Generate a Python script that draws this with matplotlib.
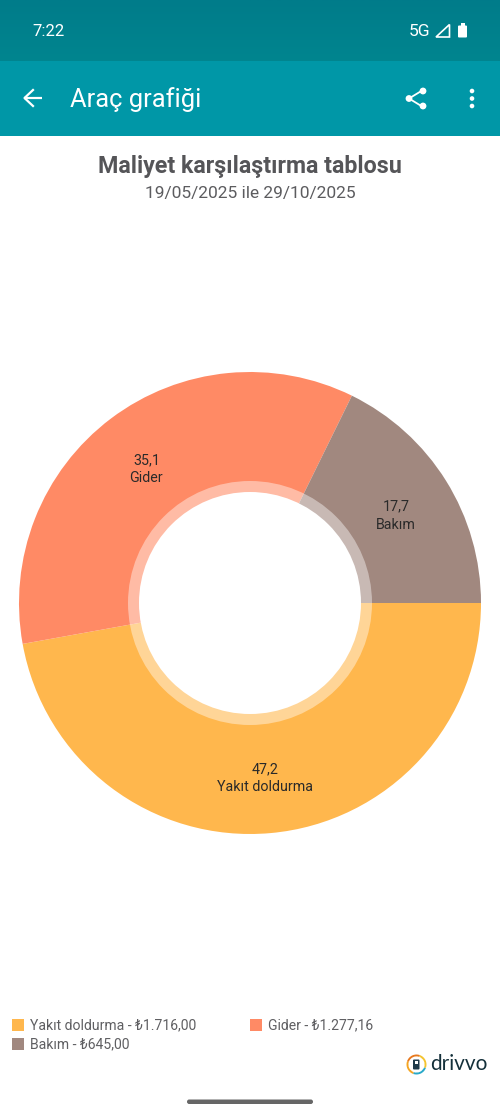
import numpy as np
import matplotlib
matplotlib.use('Agg')
import matplotlib.pyplot as plt
from matplotlib.patches import Rectangle, Circle, Wedge, Polygon, FancyBboxPatch

plt.rcParams['font.family'] = ['Roboto', 'DejaVu Sans']

# data
categories = ['Yakıt doldurma', 'Gider', 'Bakım']
costs = [1716.00, 1277.16, 645.00]
percent_labels = ['47,2', '35,1', '17,7']
legend_labels = ['Yakıt doldurma - ₺1.716,00', 'Gider - ₺1.277,16', 'Bakım - ₺645,00']
colors = ['#FFB74D', '#FF8A65', '#A1887F']

title = 'Maliyet karşılaştırma tablosu'
subtitle = '19/05/2025 ile 29/10/2025'
screen_title = 'Araç grafiği'

W, H = 500, 1116
fig = plt.figure(figsize=(W / 100, H / 100), dpi=100, facecolor='white')

# background axes in screen pixels
bg = fig.add_axes([0, 0, 1, 1])
bg.set_xlim(0, W)
bg.set_ylim(H, 0)
bg.axis('off')


def px(size):
    return size * 0.72


# status bar and app bar
gradient = np.linspace(0, 1, 60).reshape(-1, 1)
bar_cmap = matplotlib.colors.LinearSegmentedColormap.from_list('bar', ['#007C8A', '#00858F'])
bg.imshow(gradient, extent=(0, W, 61, 0), cmap=bar_cmap, aspect='auto', zorder=1)
bg.set_xlim(0, W)
bg.set_ylim(H, 0)
bg.add_patch(Rectangle((0, 61), W, 75, color='#0097A7', lw=0, zorder=1))

bg.text(32.5, 31, '7:22', color='white', fontsize=px(16.6), ha='left', va='center', zorder=3)
bg.text(409, 31, '5G', color='white', fontsize=px(17.5), ha='left', va='center', zorder=3)
bg.add_patch(Polygon([[436, 37], [449.5, 24.5], [449.5, 37]], closed=True, fill=False,
                     ec='white', lw=1.2, zorder=3))
bg.add_patch(FancyBboxPatch((458, 25.5), 9, 12, boxstyle='round,pad=0,rounding_size=1',
                            fc='white', ec='none', zorder=3))
bg.add_patch(Rectangle((460.5, 23), 4, 3, fc='white', ec='none', zorder=3))

# back arrow
bg.plot([24, 42], [98, 98], color='white', lw=1.6, zorder=3, solid_capstyle='butt')
bg.plot([33, 24.5, 33], [90, 98, 106], color='white', lw=1.6, zorder=3)
bg.text(70.5, 100, screen_title, color='white', fontsize=px(25.5), ha='left', va='center', zorder=3)

# share icon
bg.plot([423, 409, 423], [90, 98.5, 107], color='white', lw=1.3, zorder=3)
for sx, sy in [(423, 91), (409, 98.5), (423, 106)]:
    bg.add_patch(Circle((sx, sy), 3.4, fc='white', ec='none', zorder=3))

# overflow menu
for my in [91, 98.5, 106]:
    bg.add_patch(Circle((472, my), 2.3, fc='white', ec='none', zorder=3))

# headings
bg.text(250, 166, title, color='#555558', fontsize=px(23.3), fontweight='bold',
        ha='center', va='center', zorder=3)
bg.text(250, 193.5, subtitle, color='#5c5c5f', fontsize=px(17.4), ha='center', va='center', zorder=3)

# donut
cx, cy, radius = 250, 603, 231
ring_outer, hole = 122, 111
ax = fig.add_axes([(cx - radius) / W, 1 - (cy + radius) / H, 2 * radius / W, 2 * radius / H])
wedges, _ = ax.pie(costs, colors=colors, startangle=0, counterclock=False, radius=1,
                   wedgeprops={'linewidth': 0})
ax.set_xlim(-1, 1)
ax.set_ylim(-1, 1)
ax.set_aspect('equal')
ax.add_patch(Circle((0, 0), ring_outer / radius, fc='white', alpha=0.42, ec='none', zorder=5))
ax.add_patch(Circle((0, 0), hole / radius, fc='white', ec='none', zorder=6))

label_r = 0.745
label_shift = 3.5 / radius
for w, pct, name in zip(wedges, percent_labels, categories):
    mid = np.deg2rad((w.theta1 + w.theta2) / 2)
    ax.text(label_r * np.cos(mid), label_r * np.sin(mid) - label_shift, pct + '\n' + name,
            color='#2a2a2a', fontsize=px(14.2), ha='center', va='center', linespacing=1.38, zorder=7)

# legend
legend_pos = [(12, 1025), (250, 1025), (12, 1044)]
for (lx, ly), label, color in zip(legend_pos, legend_labels, colors):
    bg.add_patch(Rectangle((lx, ly - 6.5), 11.5, 12, fc=color, ec='none', zorder=3))
    bg.text(lx + 17.5, ly, label, color='#5f5f62', fontsize=px(14.0), ha='left', va='center', zorder=3)

# drivvo logo
logo_x, logo_y = 416.5, 1064.5
ring_colors = ['#29A9C9', '#F5A623', '#E8791E', '#F4C430']
for start, end, color in zip([20, 110, 200, 290], [110, 200, 290, 380], ring_colors):
    bg.add_patch(Wedge((logo_x, logo_y), 10, start, end, width=1.9, fc=color, ec='none', zorder=3))
bg.add_patch(FancyBboxPatch((logo_x - 3.5, logo_y - 5), 6.5, 10, boxstyle='round,pad=0,rounding_size=1',
                            fc='#1E3A4A', ec='none', zorder=3))
bg.add_patch(Rectangle((logo_x - 2, logo_y - 3.5), 3.5, 3, fc='white', ec='none', zorder=4))
bg.text(430.5, 1064.5, 'drivvo', color='#14303A', fontsize=px(20.8), fontfamily='Lato',
        ha='left', va='center', zorder=3)

# gesture bar
bg.add_patch(FancyBboxPatch((187, 1099.5), 126, 4.5, boxstyle='round,pad=0,rounding_size=2.2',
                            fc='#666666', ec='none', zorder=3))

fig.savefig('out.png', dpi=100, facecolor='white')
